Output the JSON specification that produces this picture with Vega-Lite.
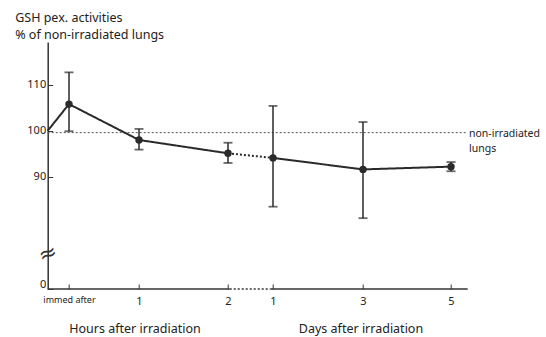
{
  "$schema": "https://vega.github.io/schema/vega-lite/v6.json",
  "width": 420,
  "height": 247,
  "autosize": {"type": "none"},
  "padding": {"left": 47.7, "top": 42, "right": 78.3, "bottom": 48},
  "config": {"view": {"stroke": null}, "font": "Noto Sans"},
  "datasets": {
    "pts": [
      {"pos": 21.3, "val": 105.8, "lo": 99.9, "hi": 112.7},
      {"pos": 91.3, "val": 98.0, "lo": 95.9, "hi": 100.4},
      {"pos": 180.3, "val": 95.1, "lo": 93.0, "hi": 97.4},
      {"pos": 225.3, "val": 94.1, "lo": 83.5, "hi": 105.4},
      {"pos": 315.3, "val": 91.6, "lo": 81.0, "hi": 101.9},
      {"pos": 403.3, "val": 92.2, "lo": 91.2, "hi": 93.2}
    ],
    "line": [
      {"pos": 0, "val": 100, "seg": "a", "style": "solid"},
      {"pos": 21.3, "val": 105.8, "seg": "a", "style": "solid"},
      {"pos": 91.3, "val": 98.0, "seg": "a", "style": "solid"},
      {"pos": 180.3, "val": 95.1, "seg": "a", "style": "solid"},
      {"pos": 180.3, "val": 95.1, "seg": "b", "style": "dot"},
      {"pos": 225.3, "val": 94.1, "seg": "b", "style": "dot"},
      {"pos": 225.3, "val": 94.1, "seg": "c", "style": "solid"},
      {"pos": 315.3, "val": 91.6, "seg": "c", "style": "solid"},
      {"pos": 403.3, "val": 92.2, "seg": "c", "style": "solid"}
    ],
    "xaxis": [
      {"a": 0, "b": 182, "y": 65.6, "style": "solid"},
      {"a": 182, "b": 223, "y": 65.6, "style": "dot"},
      {"a": 223, "b": 420, "y": 65.6, "style": "solid"}
    ],
    "ref": [{"a": 0, "b": 420, "y": 99.6}],
    "reflabel": [{"pos": 421.3, "y": 99.4, "t": "non-irradiated\nlungs"}],
    "xtitles": [
      {"pos": 87.3, "t": "Hours after irradiation"},
      {"pos": 313.3, "t": "Days after irradiation"}
    ],
    "brk": [{"pos": 0, "y": 73.3, "t": "≈"}]
  },
  "layer": [
    {
      "data": {"name": "ref"},
      "mark": {"type": "rule", "strokeDash": [2, 2], "strokeWidth": 1, "color": "#555"},
      "encoding": {
        "x": {
          "field": "a", "type": "quantitative",
          "scale": {"domain": [0, 420], "nice": false, "zero": false},
          "axis": {
            "values": [21.3, 91.3, 180.3, 225.3, 315.3, 403.3],
            "labelExpr": "datum.value < 30 ? 'immed after' : datum.value < 100 ? '1' : datum.value < 200 ? '2' : datum.value < 250 ? '1' : datum.value < 350 ? '3' : '5'",
            "labelFontSize": {"condition": {"test": "datum.value < 30", "value": 9}, "value": 11},
            "labelColor": "#222",
            "domain": false,
            "grid": false,
            "tickSize": -5,
            "tickColor": "#333",
            "labelPadding": 11,
            "title": null
          }
        },
        "x2": {"field": "b"},
        "y": {
          "field": "y", "type": "quantitative",
          "scale": {"domain": [65.6, 119.3], "nice": false, "zero": false},
          "axis": {
            "values": [65.6, 90, 100, 110],
            "labelExpr": "datum.value < 70 ? '0' : datum.label",
            "labelFontSize": 11,
            "labelColor": "#222",
            "labelBaseline": {"condition": {"test": "datum.value < 70", "value": "bottom"}, "value": "middle"},
            "grid": false,
            "tickSize": -5,
            "tickColor": "#333",
            "domainColor": "#333",
            "domainWidth": 1.5,
            "labelPadding": 7,
            "title": ["GSH pex. activities", "% of non-irradiated lungs"],
            "titleAngle": 0,
            "titleAlign": "left",
            "titleBaseline": "alphabetic",
            "titleX": -33,
            "titleY": -21,
            "titleFontWeight": "normal",
            "titleFontSize": 12.5,
            "titleLineHeight": 17,
            "titleColor": "#222"
          }
        }
      }
    },
    {
      "data": {"name": "xaxis"},
      "mark": {"type": "rule", "strokeWidth": 1.5, "color": "#333"},
      "encoding": {
        "x": {"field": "a", "type": "quantitative"},
        "x2": {"field": "b"},
        "y": {"field": "y", "type": "quantitative"},
        "strokeDash": {"field": "style", "type": "nominal", "scale": {"domain": ["solid", "dot"], "range": [[1, 0], [2, 2]]}, "legend": null}
      }
    },
    {
      "data": {"name": "line"},
      "mark": {"type": "line", "strokeWidth": 2, "color": "#2a2a2a"},
      "encoding": {
        "x": {"field": "pos", "type": "quantitative"},
        "y": {"field": "val", "type": "quantitative"},
        "detail": {"field": "seg"},
        "strokeDash": {"field": "style", "type": "nominal", "scale": {"domain": ["solid", "dot"], "range": [[1, 0], [2, 2]]}, "legend": null}
      }
    },
    {
      "data": {"name": "pts"},
      "mark": {"type": "rule", "strokeWidth": 1.5, "color": "#2a2a2a"},
      "encoding": {
        "x": {"field": "pos", "type": "quantitative"},
        "y": {"field": "lo", "type": "quantitative"},
        "y2": {"field": "hi"}
      }
    },
    {
      "data": {"name": "pts"},
      "mark": {"type": "tick", "orient": "horizontal", "size": 9, "thickness": 1.8, "color": "#2a2a2a"},
      "encoding": {
        "x": {"field": "pos", "type": "quantitative"},
        "y": {"field": "lo", "type": "quantitative"}
      }
    },
    {
      "data": {"name": "pts"},
      "mark": {"type": "tick", "orient": "horizontal", "size": 9, "thickness": 1.8, "color": "#2a2a2a"},
      "encoding": {
        "x": {"field": "pos", "type": "quantitative"},
        "y": {"field": "hi", "type": "quantitative"}
      }
    },
    {
      "data": {"name": "pts"},
      "mark": {"type": "circle", "size": 55, "opacity": 1, "color": "#2a2a2a"},
      "encoding": {
        "x": {"field": "pos", "type": "quantitative"},
        "y": {"field": "val", "type": "quantitative"}
      }
    },
    {
      "data": {"name": "reflabel"},
      "mark": {"type": "text", "align": "left", "baseline": "middle", "fontSize": 10.5, "lineBreak": "\n", "lineHeight": 15, "color": "#222"},
      "encoding": {
        "x": {"field": "pos", "type": "quantitative"},
        "y": {"field": "y", "type": "quantitative"},
        "text": {"field": "t"}
      }
    },
    {
      "data": {"name": "xtitles"},
      "mark": {"type": "text", "align": "center", "baseline": "middle", "fontSize": 12.5, "dy": 40, "color": "#222"},
      "encoding": {
        "x": {"field": "pos", "type": "quantitative"},
        "y": {"datum": 65.6, "type": "quantitative"},
        "text": {"field": "t"}
      }
    },
    {
      "data": {"name": "brk"},
      "mark": {"type": "text", "align": "center", "baseline": "middle", "fontSize": 22, "font": "DejaVu Sans", "angle": -20, "color": "#333"},
      "encoding": {
        "x": {"field": "pos", "type": "quantitative"},
        "y": {"field": "y", "type": "quantitative"},
        "text": {"field": "t"}
      }
    }
  ]
}
